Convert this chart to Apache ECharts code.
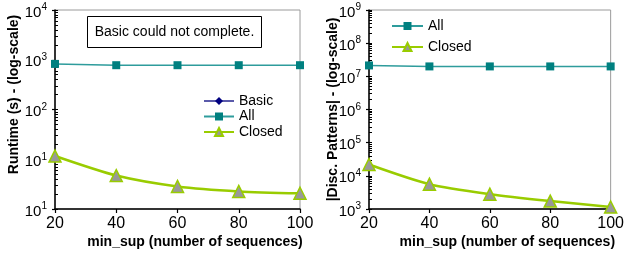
<!DOCTYPE html>
<html><head><meta charset="utf-8">
<script src="https://cdn.jsdelivr.net/npm/echarts@6/dist/echarts.min.js"></script>
<style>html,body{margin:0;padding:0;background:#fff}#c{width:627px;height:257px}</style>
</head><body><div id="c"></div>
<script>
// ---- data ----
const minSup = [20, 40, 60, 80, 100];
const runtimeBasic = [];
const runtimeAll = [825, 777, 777, 777, 777];
const runtimeClosed = [11.6, 4.7, 2.84, 2.26, 2.07];
const patternsAll = [2.13e7, 1.99e7, 1.99e7, 1.99e7, 1.99e7];
const patternsClosed = [2.2e4, 5.6e3, 2.8e3, 1.73e3, 1.15e3];
const leftTickValues = [1, 10, 100, 1000, 10000];
const leftTickExps = ['1', '1', '2', '3', '4'];
const rightTickValues = [1e3, 1e4, 1e5, 1e6, 1e7, 1e8, 1e9];
const rightTickExps = ['3', '4', '5', '6', '7', '8', '9'];
const seriesNames = ['Basic', 'All', 'Closed'];
const leftYTitle = 'Runtime (s) - (log-scale)';
const rightYTitle = '|Disc. Patterns| - (log-scale)';
const xTitle = 'min_sup (number of sequences)';
const note = 'Basic could not complete.';

const FONT = '"Liberation Sans", Arial, sans-serif';

function minorLogTicks(d0, d1) {
  const out = [];
  for (let d = d0; d <= d1; d++) {
    out.push(d);
    if (d < d1) for (let k = 2; k <= 9; k++) out.push(d + Math.log10(k));
  }
  return out;
}
const pair = (xs, ys) => ys.map((y, i) => [xs[i], y]);

const richLab = {
  b: { fontSize: 15, lineHeight: 15, padding: [5, 0, 0, 0], color: '#000', fontFamily: FONT },
  s: { fontSize: 10, lineHeight: 10, verticalAlign: 'top', color: '#000', fontFamily: FONT }
};

function labelFor(values, exps) {
  return function (v) {
    let best = 0, bd = Infinity;
    for (let i = 0; i < values.length; i++) {
      const d = Math.abs(Math.log10(values[i]) - Math.log10(v));
      if (d < bd) { bd = d; best = i; }
    }
    return '{b|10}{s|' + exps[best] + '}';
  };
}

function xAxisCfg(gi) {
  return {
    type: 'value', gridIndex: gi, min: 20, max: 100, interval: 20,
    axisLine: { lineStyle: { color: '#000', width: 1.5 } },
    axisTick: { length: 4, lineStyle: { color: '#000', width: 1.2 } },
    splitLine: { show: false },
    axisLabel: { fontSize: 16, color: '#000', margin: 7, fontFamily: FONT },
    name: xTitle, nameLocation: 'middle', nameGap: 26, nameMoveOverlap: false,
    nameTextStyle: { fontSize: 14, fontWeight: 'bold', color: '#000', fontFamily: FONT, padding: [0, 0, 0, 35] }
  };
}
function yLogCfg(gi, min, max, values, exps, title, gap, pad) {
  return {
    type: 'log', logBase: 10, gridIndex: gi, min: min, max: max,
    axisLine: { show: true, lineStyle: { color: '#000', width: 1.5 } },
    axisTick: { show: true, length: 3, lineStyle: { color: '#000', width: 1.2 } },
    splitLine: { show: false },
    axisLabel: { margin: 8, formatter: labelFor(values, exps), rich: richLab },
    name: title, nameLocation: 'middle', nameGap: gap, nameMoveOverlap: false,
    nameTextStyle: { fontSize: 14, fontWeight: 'bold', color: '#000', fontFamily: FONT, padding: pad }
  };
}
function yMinorCfg(gi, d0, d1) {
  return {
    type: 'value', gridIndex: gi, min: d0, max: d1, position: 'left',
    axisLine: { show: false }, axisLabel: { show: false }, splitLine: { show: false },
    axisTick: { show: true, inside: true, length: 3, customValues: minorLogTicks(d0, d1),
      lineStyle: { color: '#000', width: 1 } }
  };
}

const allStyle = {
  type: 'line', symbol: 'rect', symbolSize: 8, clip: false,
  itemStyle: { color: '#008080' }, lineStyle: { color: '#2e9c9c', width: 1.5 }
};
const closedStyle = {
  type: 'line', symbol: 'triangle', symbolSize: 12, clip: false, smooth: 0.25,
  itemStyle: { color: '#999999', borderColor: '#99cc00', borderWidth: 1.5 },
  lineStyle: { color: '#99cc00', width: 2.5 }
};
const basicStyle = {
  type: 'line', symbol: 'diamond', symbolSize: 8,
  itemStyle: { color: '#000080' }, lineStyle: { color: '#5a5aaa', width: 1.5 }
};

const chart = echarts.init(document.getElementById('c'), null, { renderer: 'canvas' });
chart.setOption({
  animation: false,
  backgroundColor: '#fff',
  textStyle: { fontFamily: FONT },
  grid: [
    { left: 55, top: 6, width: 245, height: 203, show: true, borderColor: '#9a9a9a', borderWidth: 1 },
    { left: 369, top: 8, width: 246, height: 201, show: true, borderColor: '#9a9a9a', borderWidth: 1 }
  ],
  xAxis: [xAxisCfg(0), xAxisCfg(1)],
  yAxis: [
    yLogCfg(0, 1, 1e4, leftTickValues, leftTickExps, leftYTitle, 34, [0, 0, 0, 30]),
    yLogCfg(1, 1e3, 1e9, rightTickValues, rightTickExps, rightYTitle, 29, [0, 0, 0, 0]),
    yMinorCfg(0, 0, 4),
    yMinorCfg(1, 3, 9)
  ],
  legend: [
    { data: seriesNames, orient: 'vertical', left: 203, top: 93.5, padding: 0, itemWidth: 30, itemHeight: 10, itemGap: 0.5,
      selectedMode: false, textStyle: { fontSize: 14, lineHeight: 15, color: '#000', fontFamily: FONT } },
    { data: seriesNames.slice(1), orient: 'vertical', left: 391, top: 18.5, padding: 0, itemWidth: 31, itemHeight: 10, itemGap: 6,
      selectedMode: false, textStyle: { fontSize: 14, lineHeight: 15, color: '#000', fontFamily: FONT } }
  ],
  graphic: [{
    type: 'group', left: 87, top: 16,
    children: [
      { type: 'rect', shape: { x: 0, y: 0, width: 174, height: 31 }, style: { fill: '#fff', stroke: '#000', lineWidth: 1 } },
      { type: 'text', x: 87, y: 16, style: { text: note, fontSize: 14, fontFamily: FONT, fill: '#000', align: 'center', verticalAlign: 'middle' } }
    ]
  }],
  series: [
    Object.assign({ name: seriesNames[0], xAxisIndex: 0, yAxisIndex: 0, data: pair(minSup, runtimeBasic) }, basicStyle),
    Object.assign({ name: seriesNames[1], xAxisIndex: 0, yAxisIndex: 0, data: pair(minSup, runtimeAll) }, allStyle),
    Object.assign({ name: seriesNames[2], xAxisIndex: 0, yAxisIndex: 0, data: pair(minSup, runtimeClosed) }, closedStyle),
    Object.assign({ name: seriesNames[1], xAxisIndex: 1, yAxisIndex: 1, data: pair(minSup, patternsAll) }, allStyle),
    Object.assign({ name: seriesNames[2], xAxisIndex: 1, yAxisIndex: 1, data: pair(minSup, patternsClosed) }, closedStyle)
  ]
});
</script>
</body></html>
